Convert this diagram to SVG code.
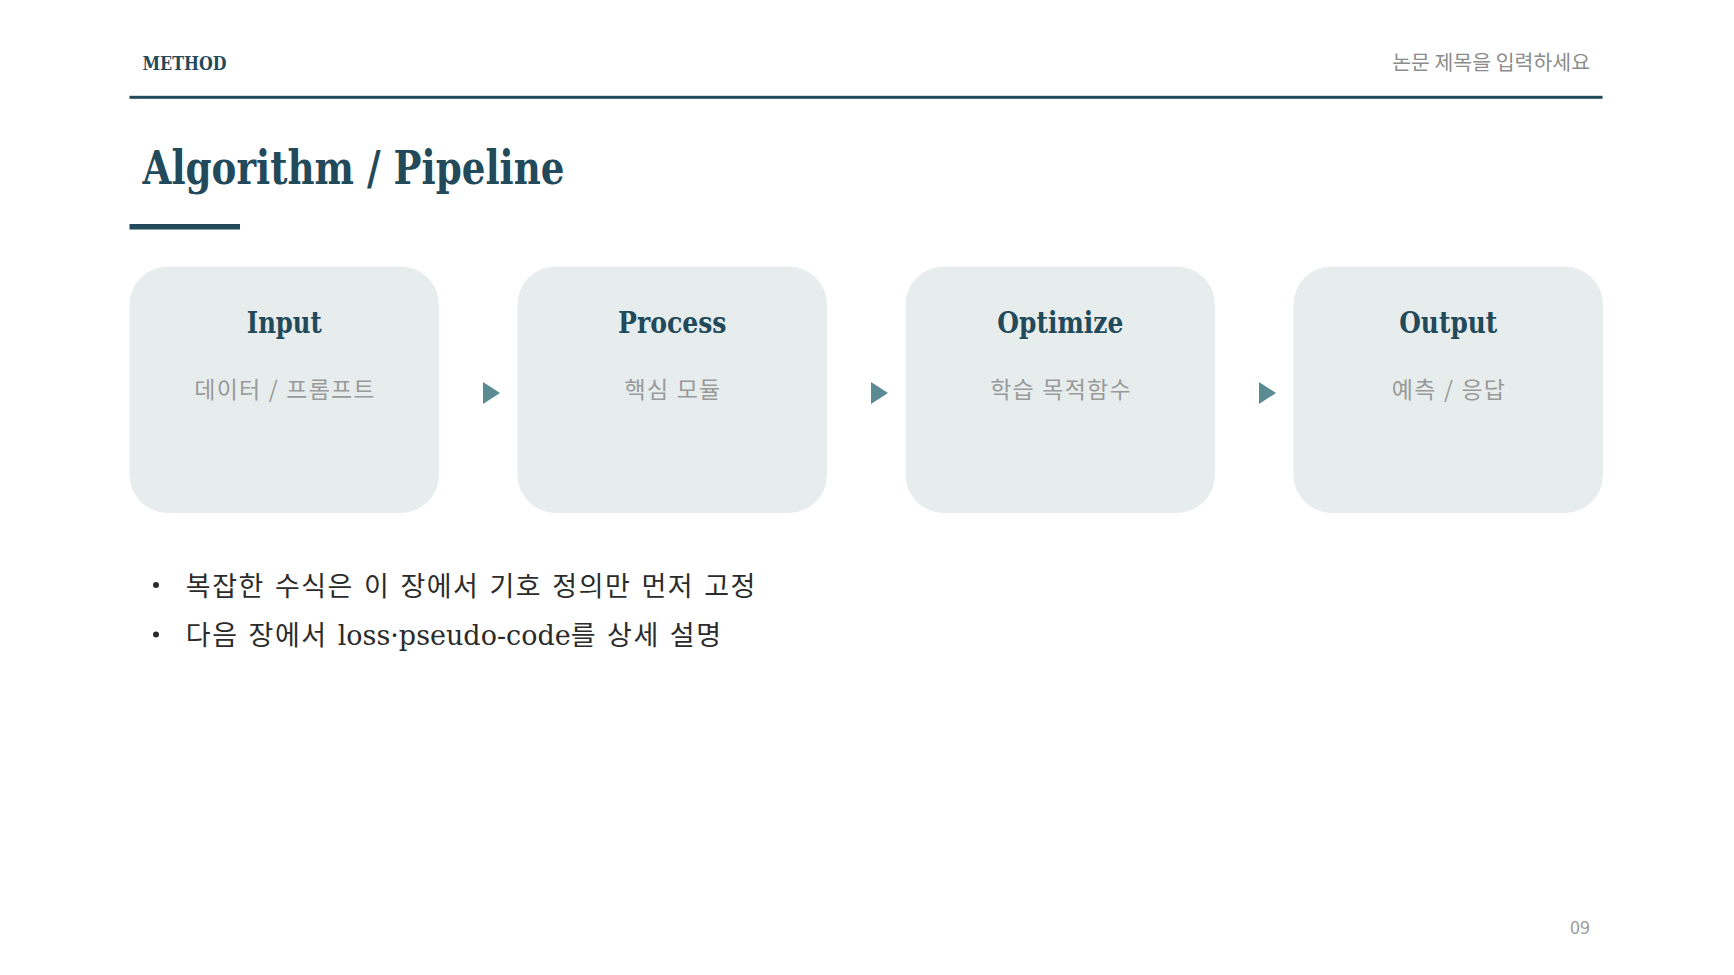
<svg xmlns="http://www.w3.org/2000/svg" width="1734" height="975" viewBox="0 0 1734 975">
  <style>
    .serif { font-family: "DejaVu Serif", "Noto Sans CJK KR", serif; }
    .kr { font-family: "Noto Sans CJK KR", "Noto Sans", sans-serif; }
    .dark { fill: #234a5b; }
    .box { fill: #e7eded; }
    .boxtitle { font-family: "DejaVu Serif", serif; font-weight: bold; font-size: 29px; fill: #234a5b; text-anchor: middle; }
    .boxsub { font-family: "Noto Sans CJK KR", sans-serif; font-size: 23px; fill: #9a9a9a; text-anchor: middle; letter-spacing: 1.2px; word-spacing: 1px; }
    .arrow { fill: #5a8b93; }
    .bullet { font-family: "DejaVu Serif", "Noto Sans CJK KR", serif; font-size: 27px; fill: #2b2b2b; letter-spacing: 1.5px; }
    .latin { letter-spacing: 0; }
  </style>
  <rect x="0" y="0" width="1734" height="975" fill="#ffffff"/>
  <g id="header">
    <text x="142.5" y="70" class="serif dark" font-weight="bold" font-size="18" textLength="84" lengthAdjust="spacingAndGlyphs">METHOD</text>
    <text x="1590" y="70" class="kr" font-size="20.5" fill="#8c8c8c" text-anchor="end">논문 제목을 입력하세요</text>
    <rect x="129.5" y="95.8" width="1473" height="3" class="dark"/>
  </g>
  <g id="title">
    <text x="142.5" y="184" class="serif dark" font-weight="bold" font-size="46" textLength="422" lengthAdjust="spacingAndGlyphs">Algorithm / Pipeline</text>
    <rect x="129.5" y="224" width="110.5" height="5.5" class="dark"/>
  </g>
  <g id="node-input">
    <rect x="129.5" y="266.5" width="309.5" height="246.5" rx="38" class="box"/>
    <text x="284.25" y="333" class="boxtitle" textLength="75" lengthAdjust="spacingAndGlyphs">Input</text>
    <text x="285" y="398" class="boxsub">데이터 / 프롬프트</text>
  </g>
  <g id="node-process">
    <rect x="517.5" y="266.5" width="309.5" height="246.5" rx="38" class="box"/>
    <text x="672.25" y="333" class="boxtitle" textLength="108.5" lengthAdjust="spacingAndGlyphs">Process</text>
    <text x="673" y="398" class="boxsub">핵심 모듈</text>
  </g>
  <g id="node-optimize">
    <rect x="905.5" y="266.5" width="309.5" height="246.5" rx="38" class="box"/>
    <text x="1060.25" y="333" class="boxtitle" textLength="126" lengthAdjust="spacingAndGlyphs">Optimize</text>
    <text x="1061" y="398" class="boxsub">학습 목적함수</text>
  </g>
  <g id="node-output">
    <rect x="1293.5" y="266.5" width="309.5" height="246.5" rx="38" class="box"/>
    <text x="1448.25" y="333" class="boxtitle" textLength="98" lengthAdjust="spacingAndGlyphs">Output</text>
    <text x="1449" y="398" class="boxsub">예측 / 응답</text>
  </g>
  <g id="connectors">
    <polygon points="483,382 500,393 483,404" class="arrow"/>
    <polygon points="871,382 888,393 871,404" class="arrow"/>
    <polygon points="1259,382 1276,393 1259,404" class="arrow"/>
  </g>
  <g id="bullets">
    <circle cx="156" cy="585" r="3" fill="#2b2b2b"/>
    <text x="185.8" y="596" class="bullet">복잡한 수식은 이 장에서 기호 정의만 먼저 고정</text>
    <circle cx="156" cy="634.5" r="3" fill="#2b2b2b"/>
    <text x="185.8" y="645" class="bullet">다음 장에서 <tspan class="latin">loss·pseudo-code</tspan>를 상세 설명</text>
  </g>
  <g id="footer">
    <text x="1590" y="934" class="kr" font-size="18" fill="#9a9a9a" text-anchor="end">09</text>
  </g>
</svg>
